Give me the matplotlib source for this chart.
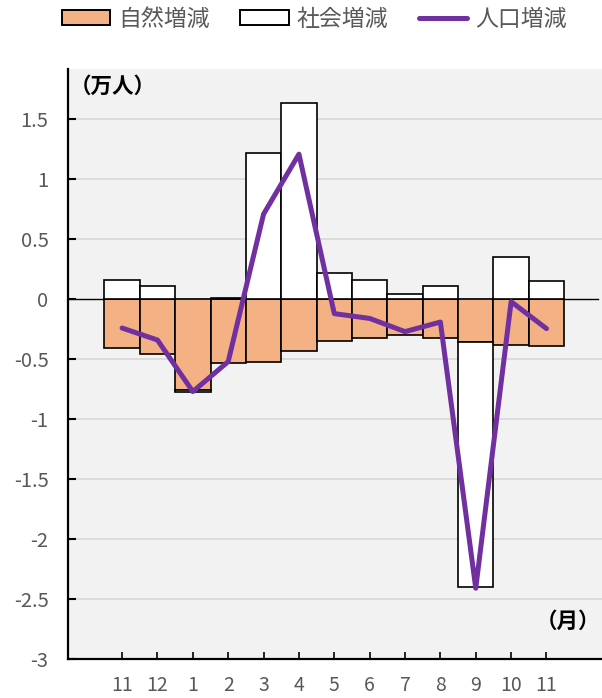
import numpy as np
import matplotlib
matplotlib.use("Agg")
import matplotlib.pyplot as plt
from matplotlib.patches import Patch
from matplotlib.lines import Line2D

plt.rcParams['font.family'] = ['Noto Sans CJK JP', 'DejaVu Sans']

# months (Nov .. next Nov)
months = ['11', '12', '1', '2', '3', '4', '5', '6', '7', '8', '9', '10', '11']
# natural change (万人)
natural = [-0.41, -0.46, -0.76, -0.53, -0.52, -0.43, -0.35, -0.32, -0.30, -0.32, -0.36, -0.38, -0.39]
# social change (万人)
social = [0.16, 0.11, -0.01, 0.01, 1.22, 1.64, 0.22, 0.16, 0.04, 0.11, -2.04, 0.35, 0.15]
# population change (万人)
population = [-0.24, -0.34, -0.77, -0.52, 0.71, 1.21, -0.12, -0.16, -0.27, -0.19, -2.41, -0.02, -0.245]

orange = '#f4b183'
purple = '#7030a0'
gray_text = '#595959'

fig = plt.figure(figsize=(6.02, 6.98), dpi=100)
ax = fig.add_axes([68 / 602, 1 - 659 / 698, 534 / 602, (659 - 69) / 698])
ax.set_facecolor('#f2f2f2')

x = np.arange(len(months))
nat = np.array(natural)
soc = np.array(social)
soc_bottom = np.where(soc >= 0, 0, nat)

for yv in np.arange(-2.5, 1.6, 0.5):
    if abs(yv) > 1e-9:
        ax.axhline(yv, color='#d9d9d9', lw=1.3, zorder=0)
ax.plot([-1.55, 13.45], [0, 0], color='black', lw=1.0, zorder=1)

ax.bar(x, nat, width=1.0, color=orange, edgecolor='black', linewidth=1.2, zorder=2)
ax.bar(x, soc, width=1.0, bottom=soc_bottom, color='white', edgecolor='black', linewidth=1.2, zorder=2)
ax.plot(x, population, color=purple, lw=3.6, solid_capstyle='round', solid_joinstyle='round', zorder=3)

ax.set_xlim(-1.53, 13.57)
ax.set_ylim(-3, 1.92)
ax.set_xticks(x)
ax.set_xticklabels(months)
ax.set_yticks(np.arange(-3, 1.6, 0.5))
ax.set_yticklabels(['-3', '-2.5', '-2', '-1.5', '-1', '-0.5', '0', '0.5', '1', '1.5'])

ax.tick_params(axis='x', direction='in', length=5, width=1.2, pad=11.5, labelsize=14, labelcolor=gray_text)
ax.tick_params(axis='y', direction='in', length=5.5, width=1.5, pad=14, labelsize=14.5, labelcolor=gray_text)

for s in ['top', 'right']:
    ax.spines[s].set_visible(False)
for s in ['left', 'bottom']:
    ax.spines[s].set_linewidth(1.6)
    ax.spines[s].set_color('black')

ax.text(70 / 602, 1 - 86 / 698, '（万人）', transform=fig.transFigure, fontsize=15.5,
        fontweight='bold', color='black', ha='left', va='center')
ax.text(600 / 602, 1 - 621 / 698, '（月）', transform=fig.transFigure, fontsize=15.5,
        fontweight='bold', color='black', ha='right', va='center')

handles = [
    Patch(facecolor=orange, edgecolor='black', linewidth=1.4),
    Patch(facecolor='white', edgecolor='black', linewidth=1.4),
    Line2D([0], [0], color=purple, lw=3.6, solid_capstyle='round'),
]
labels = ['自然増減', '社会増減', '人口増減']
leg = fig.legend(handles, labels, loc='center', bbox_to_anchor=(0.522, 1 - 19 / 698), ncol=3,
                 frameon=False, fontsize=16.5, handlelength=2.1, handleheight=0.62,
                 handletextpad=0.35, columnspacing=1.35)
for t in leg.get_texts():
    t.set_color(gray_text)

fig.savefig('out.png', dpi=100)
